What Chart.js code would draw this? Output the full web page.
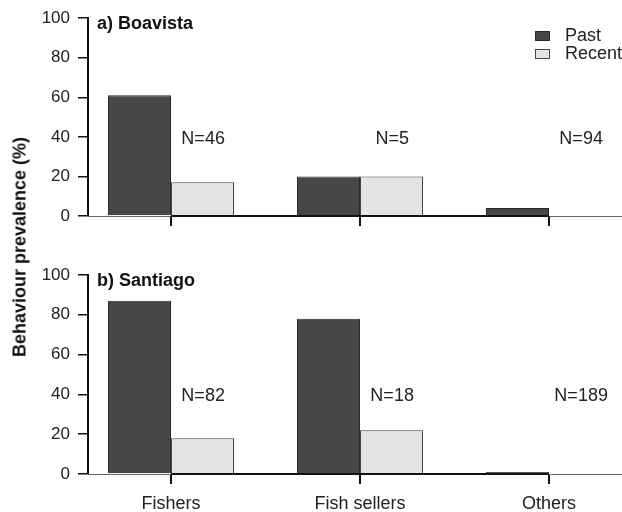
<!DOCTYPE html>
<html>
<head>
<meta charset="utf-8">
<script src="https://cdn.jsdelivr.net/npm/chart.js@4/dist/chart.umd.min.js"></script>
<style>
  html, body { margin: 0; padding: 0; background: #fff; width: 622px; height: 512px; overflow: hidden; }
  #wrap { position: relative; width: 622px; height: 512px; }
  #top { position: absolute; left: 0; top: 0; }
  #bot { position: absolute; left: 0; top: 250px; }
  #ytitle {
    position: absolute; left: 20px; top: 247px;
    transform: translate(-50%, -50%) rotate(-90deg);
    font: bold 18px "Liberation Sans", Arial, sans-serif;
    white-space: nowrap; color: #111;
  }
</style>
</head>
<body>
<div id="wrap">
  <canvas id="top" width="622" height="240"></canvas>
  <canvas id="bot" width="622" height="262"></canvas>
  <div id="ytitle">Behaviour prevalence (%)</div>
</div>
<script>
// Respondent groups and behaviour prevalence (%) per island
const categories = ['Fishers', 'Fish sellers', 'Others'];
const seriesNames = ['Past', 'Recent'];
const boavistaPast = [61, 20, 4];
const boavistaRecent = [17, 20, 0];
const boavistaN = [46, 5, 94];
const santiagoPast = [87, 78, 1];
const santiagoRecent = [18, 22, 0];
const santiagoN = [82, 18, 189];
const yTicks = [0, 20, 40, 60, 80, 100];

const FONT = '"Liberation Sans", Arial, sans-serif';
Chart.defaults.font.family = FONT;
Chart.defaults.color = '#222';

const pastFill = '#474747', pastLine = '#2a2a2a';
const recentFill = '#e4e4e4', recentLine = '#444444';

// Sample-size labels sit just right of each category, at this height on the y scale
const nLabelValue = 39;
const nLabelShift = 0.17;

function makePanel(canvasId, title, past, recent, nValues, cfg) {
  const panelDecor = {
    id: 'panelDecor',
    afterDatasetsDraw(chart) {
      const { ctx, chartArea: a, scales: { x } } = chart;
      ctx.save();
      // thin baseline across the plot
      ctx.strokeStyle = '#666';
      ctx.lineWidth = 1;
      ctx.beginPath();
      ctx.moveTo(a.left, a.bottom + 0.5);
      ctx.lineTo(a.right, a.bottom + 0.5);
      ctx.stroke();
      // heavier axis line spanning the category ticks
      ctx.strokeStyle = '#111';
      ctx.lineWidth = 2;
      ctx.beginPath();
      ctx.moveTo(x.getPixelForValue(0), a.bottom);
      ctx.lineTo(x.getPixelForValue(categories.length - 1), a.bottom);
      ctx.stroke();
      ctx.restore();
    },
    afterDraw(chart) {
      const { ctx, chartArea: a, scales: { x, y } } = chart;
      ctx.save();
      ctx.fillStyle = '#111';
      ctx.textBaseline = 'middle';
      ctx.textAlign = 'left';
      ctx.font = 'bold 18px ' + FONT;
      ctx.fillText(title, a.left + 9, a.top + 6);

      ctx.font = '18px ' + FONT;
      ctx.textAlign = 'center';
      ctx.fillStyle = '#222';
      nValues.forEach((n, i) => {
        ctx.fillText('N=' + n, x.getPixelForValue(i + nLabelShift), y.getPixelForValue(nLabelValue));
      });

      if (cfg.legend) {
        const lx = 535, ly = [36, 54];
        const fills = [pastFill, recentFill], lines = [pastLine, recentLine];
        seriesNames.forEach((name, i) => {
          ctx.fillStyle = fills[i];
          ctx.fillRect(lx, ly[i] - 5, 15, 10);
          ctx.strokeStyle = lines[i];
          ctx.lineWidth = 1;
          ctx.strokeRect(lx + 0.5, ly[i] - 4.5, 14, 9);
          ctx.fillStyle = '#222';
          ctx.textAlign = 'left';
          ctx.font = '18px ' + FONT;
          ctx.fillText(name, 565, ly[i]);
        });
      }
      ctx.restore();
    }
  };

  return new Chart(document.getElementById(canvasId), {
    type: 'bar',
    data: {
      datasets: [
        {
          label: seriesNames[0],
          data: past.map((v, i) => ({ x: i, y: v })),
          backgroundColor: pastFill, borderColor: pastLine, borderWidth: 1
        },
        {
          label: seriesNames[1],
          data: recent.map((v, i) => ({ x: i, y: v })),
          backgroundColor: recentFill, borderColor: recentLine, borderWidth: 1
        }
      ]
    },
    options: {
      responsive: false,
      animation: false,
      events: [],
      categoryPercentage: 2 / 3,
      barPercentage: 1,
      layout: { padding: { top: cfg.padTop, right: 0, bottom: 0, left: 0 } },
      plugins: { legend: { display: false }, tooltip: { enabled: false } },
      scales: {
        x: {
          type: 'linear',
          offset: false,
          min: -0.4392,
          max: 2.3862,
          afterBuildTicks: s => { s.ticks = categories.map((c, i) => ({ value: i })); },
          afterFit: s => { s.height = cfg.xHeight; },
          ticks: {
            display: cfg.xLabels,
            callback: v => categories[v],
            font: { size: 18 },
            color: '#222',
            padding: 9,
            maxRotation: 0,
            autoSkip: false
          },
          grid: { offset: false, drawOnChartArea: false, drawTicks: true, tickLength: 10, color: '#111', lineWidth: 2 },
          border: { display: false }
        },
        y: {
          min: 0,
          max: 100,
          afterBuildTicks: s => { s.ticks = yTicks.map(v => ({ value: v })); },
          afterFit: s => { s.width = 88; },
          ticks: { font: { size: 17 }, color: '#222', padding: 8 },
          grid: { drawOnChartArea: false, drawTicks: true, tickLength: 10, color: '#111', lineWidth: 1.5 },
          border: { display: true, color: '#111', width: 2 }
        }
      }
    },
    plugins: [panelDecor]
  });
}

makePanel('top', 'a) Boavista', boavistaPast, boavistaRecent, boavistaN,
  { padTop: 18, xHeight: 24, xLabels: false, legend: true });
makePanel('bot', 'b) Santiago', santiagoPast, santiagoRecent, santiagoN,
  { padTop: 25, xHeight: 38, xLabels: true, legend: false });
</script>
</body>
</html>
